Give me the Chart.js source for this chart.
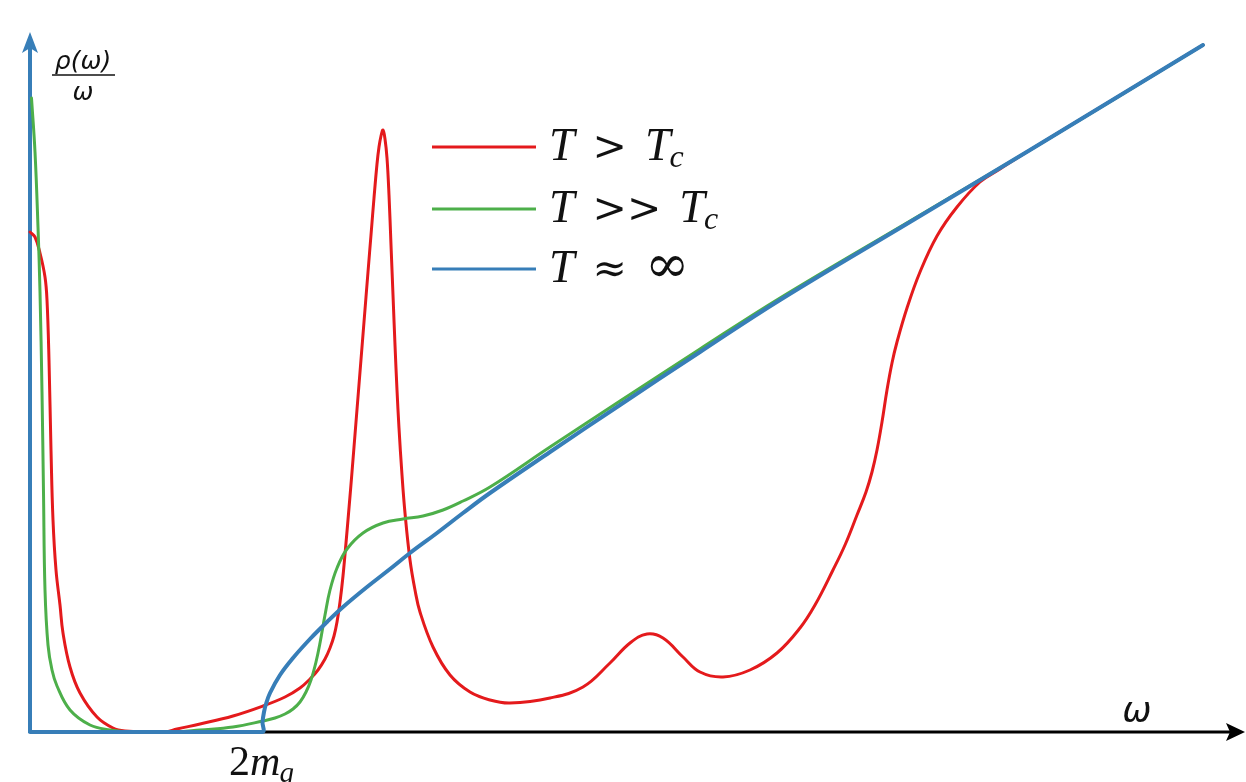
<!DOCTYPE html>
<html>
<head>
<meta charset="utf-8">
<script src="https://cdn.jsdelivr.net/npm/chart.js@4.4.0/dist/chart.umd.min.js"></script>
<style>
  html, body { margin: 0; padding: 0; background: #ffffff; }
  canvas { display: block; }
</style>
</head>
<body>
<canvas id="spectral" width="1246" height="782"></canvas>
<script>
// Spectral function rho(omega)/omega for three temperatures, in arbitrary units.
const seriesNames  = ['T > T_c', 'T >> T_c', 'T ≈ ∞'];
const seriesColors = ['#e41a1c', '#4daf4a', '#377eb8'];

// Threshold marked on the omega axis.
const thresholdLabel = '2m_g';
const thresholdOmega = 2.32;

// T > T_c : transport peak, sharp resonance, then a bump before the continuum.
const tAboveTc = [
  [0.00, 5.00], [0.05, 4.95], [0.10, 4.79], [0.15, 4.55], [0.17, 4.32],
  [0.19, 3.72], [0.21, 2.82], [0.23, 2.12], [0.26, 1.62], [0.30, 1.27],
  [0.33, 0.99], [0.40, 0.65], [0.50, 0.39], [0.67, 0.15], [0.83, 0.04],
  [0.95, 0.01], [1.20, 0.00], [1.35, 0.00], [1.47, 0.03], [1.70, 0.08],
  [2.03, 0.16], [2.33, 0.26], [2.55, 0.35], [2.70, 0.44], [2.80, 0.53],
  [2.88, 0.62], [2.95, 0.73], [3.00, 0.84], [3.04, 0.96], [3.07, 1.10],
  [3.10, 1.30], [3.13, 1.56], [3.16, 1.89], [3.19, 2.24], [3.22, 2.60],
  [3.26, 3.10], [3.30, 3.60], [3.34, 4.10], [3.38, 4.60], [3.41, 4.97],
  [3.44, 5.34], [3.47, 5.68], [3.49, 5.85], [3.51, 5.96], [3.53, 6.02],
  [3.55, 5.93], [3.57, 5.74], [3.59, 5.37], [3.61, 4.87], [3.63, 4.37],
  [3.65, 3.87], [3.67, 3.42], [3.69, 3.04], [3.72, 2.57], [3.75, 2.19],
  [3.80, 1.72], [3.85, 1.42], [3.90, 1.20], [4.03, 0.85], [4.20, 0.57],
  [4.40, 0.40], [4.60, 0.32], [4.80, 0.29], [5.20, 0.34], [5.53, 0.45],
  [5.80, 0.69], [6.00, 0.89], [6.17, 0.98], [6.33, 0.94], [6.53, 0.75],
  [6.70, 0.60], [6.93, 0.55], [7.20, 0.62], [7.47, 0.79], [7.70, 1.04],
  [7.85, 1.27], [8.03, 1.62], [8.15, 1.87], [8.27, 2.17], [8.36, 2.40],
  [8.42, 2.60], [8.47, 2.82], [8.52, 3.10], [8.57, 3.42], [8.62, 3.69],
  [8.67, 3.90], [8.77, 4.24], [8.90, 4.60], [9.07, 4.96], [9.27, 5.25],
  [9.50, 5.50], [9.70, 5.63], [10.00, 5.82], [11.73, 6.87]
];

// T >> T_c : narrower transport peak, broad shoulder above threshold.
const tFarAboveTc = [
  [0.015, 6.34], [0.05, 5.80], [0.08, 5.05], [0.10, 4.40], [0.12, 3.40],
  [0.135, 2.40], [0.15, 1.42], [0.18, 0.87], [0.22, 0.62], [0.27, 0.46],
  [0.40, 0.22], [0.60, 0.07], [0.80, 0.02], [1.00, 0.00], [1.45, 0.00],
  [1.70, 0.02], [2.03, 0.05], [2.33, 0.11], [2.45, 0.14], [2.55, 0.18],
  [2.63, 0.23], [2.70, 0.30], [2.76, 0.40], [2.81, 0.52], [2.86, 0.70],
  [2.90, 0.89], [2.95, 1.17], [3.00, 1.42], [3.07, 1.64], [3.17, 1.83],
  [3.33, 1.99], [3.53, 2.09], [3.73, 2.13], [3.93, 2.16], [4.13, 2.22],
  [4.33, 2.31], [4.60, 2.45], [5.20, 2.85], [5.90, 3.31], [6.70, 3.83],
  [7.50, 4.34], [8.80, 5.11], [10.00, 5.82], [11.73, 6.87]
];

// T ~ infinity : free continuum opening at the threshold.
const tInfinite = [
  [0.00, 0.00], [2.32, 0.00], [2.325, 0.10], [2.34, 0.20], [2.36, 0.28],
  [2.40, 0.39], [2.50, 0.57], [2.63, 0.74], [2.80, 0.93], [2.97, 1.10],
  [3.13, 1.25], [3.37, 1.45], [3.60, 1.63], [3.80, 1.79], [4.07, 1.99],
  [4.33, 2.19], [4.60, 2.39], [5.20, 2.80], [5.90, 3.27], [6.70, 3.80],
  [7.50, 4.32], [8.80, 5.10], [10.00, 5.82], [11.73, 6.87]
];

const omegaRange = [0, 12];
const rhoRange   = [0, 7];

const toPoints = arr => arr.map(([x, y]) => ({ x, y }));

const INK = '#111111';
const SERIF = '"Liberation Serif", "DejaVu Serif", serif';
const SYMBOL = '"DejaVu Serif", serif';
const SANS  = '"DejaVu Sans", sans-serif';
const symbolScale = { '∞': 1.15 };

// Lay out a small math string: letters italic, digits upright,
// relation symbols in a wider face, "_x" as a subscript, spaces as relation spacing.
function mathRuns(ctx, str, size, gap) {
  const runs = [];
  let x = 0;
  str.split(' ').forEach((tok, ti) => {
    if (ti > 0) x += gap;
    const [base, sub] = tok.split('_');
    for (const ch of base) {
      let font;
      if (/[A-Za-z]/.test(ch)) font = 'italic ' + size + 'px ' + SERIF;
      else if (/[0-9]/.test(ch)) font = size + 'px ' + SERIF;
      else font = Math.round(size * (symbolScale[ch] || 0.9)) + 'px ' + SYMBOL;
      ctx.font = font;
      runs.push({ text: ch, font, x, dy: 0 });
      x += ctx.measureText(ch).width;
    }
    if (sub) {
      const sSize = Math.round(size * 0.7);
      const font = 'italic ' + sSize + 'px ' + SERIF;
      ctx.font = font;
      runs.push({ text: sub, font, x: x - size * 0.02, dy: size * 0.16 });
      x += ctx.measureText(sub).width;
    }
  });
  return { runs, width: x };
}

function drawMath(ctx, str, x, baseline, size, gap) {
  const { runs } = mathRuns(ctx, str, size, gap);
  ctx.fillStyle = INK;
  ctx.textBaseline = 'alphabetic';
  ctx.textAlign = 'left';
  runs.forEach(r => {
    ctx.font = r.font;
    ctx.fillText(r.text, x + r.x, baseline + r.dy);
  });
}

// Axes with arrow heads, the threshold mark, axis titles and the legend.
const decorations = {
  id: 'decorations',
  beforeDatasetsDraw(chart) {
    const { ctx, scales: { x, y } } = chart;
    const x0 = x.getPixelForValue(omegaRange[0]);
    const y0 = y.getPixelForValue(rhoRange[0]);
    const yTop = y.top;
    const xEnd = chart.width - 1;
    ctx.save();
    ctx.lineCap = 'butt';

    // omega axis
    ctx.strokeStyle = '#000000';
    ctx.fillStyle = '#000000';
    ctx.lineWidth = 3;
    ctx.beginPath();
    ctx.moveTo(x0, y0);
    ctx.lineTo(xEnd - 14, y0);
    ctx.stroke();
    ctx.beginPath();
    ctx.moveTo(xEnd, y0);
    ctx.lineTo(xEnd - 19, y0 - 9);
    ctx.lineTo(xEnd - 15, y0);
    ctx.lineTo(xEnd - 19, y0 + 9);
    ctx.closePath();
    ctx.fill();

    // rho/omega axis
    ctx.strokeStyle = seriesColors[2];
    ctx.fillStyle = seriesColors[2];
    ctx.lineWidth = 4;
    ctx.beginPath();
    ctx.moveTo(x0, y0 + 1);
    ctx.lineTo(x0, yTop + 16);
    ctx.stroke();
    ctx.beginPath();
    ctx.moveTo(x0, yTop);
    ctx.lineTo(x0 - 8, yTop + 21);
    ctx.lineTo(x0, yTop + 16);
    ctx.lineTo(x0 + 8, yTop + 21);
    ctx.closePath();
    ctx.fill();
    ctx.restore();
  },
  afterDatasetsDraw(chart) {
    const { ctx, scales: { x, y } } = chart;
    const x0 = x.getPixelForValue(omegaRange[0]);
    const y0 = y.getPixelForValue(rhoRange[0]);
    ctx.save();

    // vertical axis title: rho(omega) / omega
    const cx = x0 + 53;
    ctx.fillStyle = INK;
    ctx.textAlign = 'center';
    ctx.textBaseline = 'alphabetic';
    ctx.font = 'oblique 25px ' + SANS;
    ctx.fillText('ρ(ω)', cx, y.top + 37);
    ctx.fillText('ω', cx, y.top + 68);
    ctx.strokeStyle = INK;
    ctx.lineWidth = 1.6;
    ctx.beginPath();
    ctx.moveTo(cx - 31, y.top + 43);
    ctx.lineTo(cx + 32, y.top + 43);
    ctx.stroke();

    // horizontal axis title
    ctx.font = 'oblique 35px ' + SANS;
    ctx.fillText('ω', x.right - 93, y0 - 10);

    // threshold label under the axis
    const tx = x.getPixelForValue(thresholdOmega);
    drawMath(ctx, thresholdLabel, tx - 33, y0 + 43, 42, 0);

    // legend
    const lx = x.getPixelForValue(4.02);
    const rows = [147, 209, 269];
    chart.data.datasets.forEach((ds, i) => {
      const ly = rows[i];
      ctx.strokeStyle = ds.borderColor;
      ctx.lineWidth = 3;
      ctx.beginPath();
      ctx.moveTo(lx, ly);
      ctx.lineTo(lx + 104, ly);
      ctx.stroke();
      drawMath(ctx, ds.label, lx + 117, ly + 13, 46, 18);
    });
    ctx.restore();
  }
};

const datasets = [tAboveTc, tFarAboveTc, tInfinite].map((curve, i) => ({
  label: seriesNames[i],
  data: toPoints(curve),
  borderColor: seriesColors[i],
  backgroundColor: seriesColors[i],
  borderWidth: i === 2 ? 4 : 3,
  pointRadius: 0,
  fill: false,
  tension: 0.4,
  clip: false,
  order: 3 - i
}));

new Chart(document.getElementById('spectral'), {
  type: 'line',
  data: { datasets },
  options: {
    responsive: false,
    animation: false,
    devicePixelRatio: 1,
    layout: { padding: { left: 30, right: 16, top: 32, bottom: 50 } },
    scales: {
      x: { type: 'linear', min: omegaRange[0], max: omegaRange[1], display: false },
      y: { type: 'linear', min: rhoRange[0], max: rhoRange[1], display: false }
    },
    plugins: {
      legend: { display: false },
      tooltip: { enabled: false },
      title: { display: false }
    },
    elements: { line: { borderCapStyle: 'round', borderJoinStyle: 'round' } }
  },
  plugins: [decorations]
});
</script>
</body>
</html>
